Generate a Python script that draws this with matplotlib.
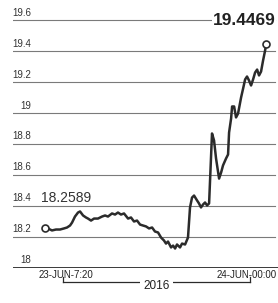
import matplotlib
matplotlib.use("Agg")
import matplotlib.pyplot as plt
import matplotlib.transforms as mtransforms

# hours since 23-JUN-2016 00:00
hours = [5.73, 5.99, 6.35, 6.71, 7.07, 7.42, 7.69, 7.96, 8.14, 8.40, 8.67, 8.85,
         9.12, 9.38, 9.56, 9.83, 10.10, 10.45, 10.81, 11.08, 11.34, 11.70, 11.97,
         12.23, 12.50, 12.77, 13.13, 13.39, 13.66, 13.93, 14.20, 14.46, 14.73,
         15.00, 15.27, 15.53, 15.80, 16.07, 16.33, 16.51, 16.69, 16.96, 17.14,
         17.32, 17.49, 17.76, 17.94, 18.21, 18.47, 18.65, 18.83, 19.01, 19.28,
         19.45, 19.63, 19.81, 19.99, 20.17, 20.35, 20.61, 20.79, 20.97, 21.24,
         21.42, 21.59, 21.86, 22.04, 22.13, 22.31, 22.40, 22.58, 22.75, 22.93,
         23.20, 23.38, 23.56, 23.73, 23.91, 24.09, 24.27, 24.45, 24.63, 24.80,
         24.98, 25.16, 25.34, 25.43]
rate = [18.2589, 18.253, 18.240, 18.246, 18.246, 18.253, 18.259, 18.272, 18.291,
        18.330, 18.356, 18.363, 18.337, 18.324, 18.317, 18.304, 18.317, 18.317,
        18.330, 18.337, 18.330, 18.350, 18.343, 18.356, 18.343, 18.350, 18.317,
        18.324, 18.298, 18.304, 18.278, 18.272, 18.266, 18.253, 18.259, 18.233,
        18.227, 18.194, 18.175, 18.155, 18.168, 18.130, 18.142, 18.123, 18.149,
        18.130, 18.155, 18.149, 18.194, 18.389, 18.453, 18.466, 18.434, 18.415,
        18.389, 18.408, 18.421, 18.402, 18.415, 18.868, 18.823, 18.706, 18.576,
        18.615, 18.661, 18.706, 18.732, 18.874, 18.965, 19.043, 19.043, 18.972,
        18.997, 19.101, 19.159, 19.218, 19.237, 19.211, 19.179, 19.218, 19.263,
        19.282, 19.244, 19.269, 19.341, 19.405, 19.4469]

grid_values = [18.2, 18.4, 18.6, 18.8, 19.0, 19.2, 19.4, 19.6]
grid_labels = ["18.2", "18.4", "18.6", "18.8", "19", "19.2", "19.4", "19.6"]
base_value, base_label = 18.0, "18"
start_label = "18.2589"
end_label = "19.4469"
date_ticks = [7.333, 24.0]
date_labels = ["23-JUN-7:20", "24-JUN-00:00"]
year_label = "2016"

sans = ["Liberation Sans", "DejaVu Sans"]
ink = "#2b2b2b"
grid_c = "#7a7a7a"

fig = plt.figure(figsize=(2.78, 3.03), dpi=100)
fig.patch.set_facecolor("white")
ax = fig.add_axes([13/278, 35.5/303, 265/278, 253.2/303])
ax.set_xlim(2.877, 26.49)
ax.set_ylim(18.0, 19.64)
ax.axis("off")

# gridlines
for v in grid_values:
    ax.axhline(v, xmin=0, xmax=0.989, color=grid_c, lw=0.8, zorder=1)
ax.axhline(base_value, xmin=0, xmax=1, color=ink, lw=1.3, zorder=1)

# y labels sitting above the lines
lab_tr = mtransforms.offset_copy(ax.get_yaxis_transform(), fig=fig, x=0, y=2.5, units="dots")
for v, l in zip(grid_values + [base_value], grid_labels + [base_label]):
    ax.text(0.068, v, l, transform=lab_tr, ha="right", va="bottom",
            fontsize=7, family=sans, color="#333333", zorder=3)

# data line
ax.plot(hours, rate, color=ink, lw=1.8, zorder=4, solid_joinstyle="round")
ax.plot([hours[0]], [rate[0]], "o", ms=5, mfc="white", mec=ink, mew=1.2, zorder=5)
ax.plot([hours[-1]], [rate[-1]], "o", ms=5, mfc="white", mec=ink, mew=1.2, zorder=5)

# value annotations
ax.text(hours[0] - 0.4, 18.405, start_label, ha="left", va="bottom",
        fontsize=10, family=sans, color="#333333", zorder=3)
ax.text(26.25, 19.6, end_label, ha="right", va="center",
        fontsize=12.5, fontweight="bold", family=sans,
        color="#222222", zorder=3,
        bbox=dict(boxstyle="square,pad=0.05", fc="white", ec="none"))

# x labels and bracket
xt = ax.get_xaxis_transform()
label_x = [date_ticks[0] + 0.3, date_ticks[1] - 0.3]
for h, lx, l in zip(date_ticks, label_x, date_labels):
    ax.text(lx, -0.028, l, transform=xt, ha="center", va="center",
            fontsize=7, family=sans, color="#222222", clip_on=False)
    ax.plot([h, h], [-0.037, -0.057], transform=xt, color=ink, lw=0.9, clip_on=False)
ax.plot(date_ticks, [-0.057, -0.057], transform=xt, color=ink, lw=0.9, clip_on=False)
ax.text(sum(date_ticks) / 2, -0.075, year_label, transform=xt, ha="center", va="center",
        fontsize=8.5, family=sans, color="#222222", clip_on=False,
        bbox=dict(boxstyle="square,pad=0.3", fc="white", ec="none"))

fig.savefig("out.png", dpi=100, facecolor="white")
